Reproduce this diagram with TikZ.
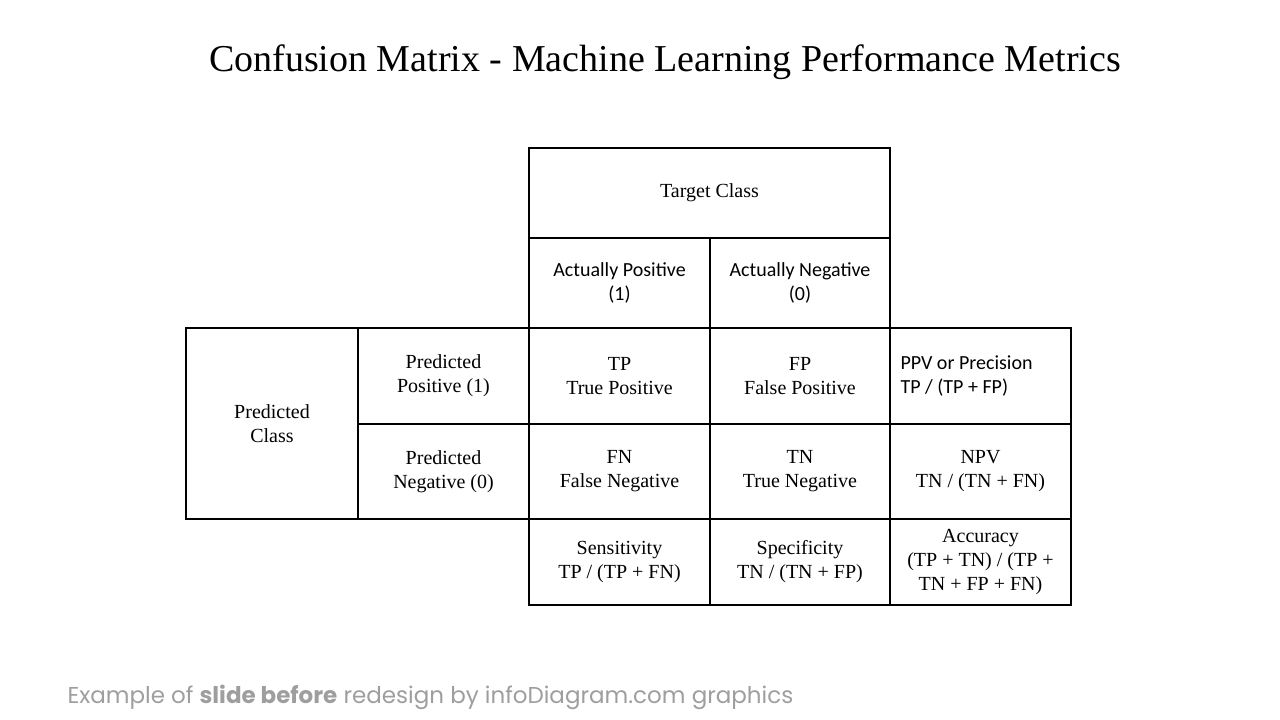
\documentclass[tikz,border=0pt]{standalone}
\usepackage{fontspec}
\setmainfont{Liberation Serif}
\newfontfamily\calfont{Carlito}
\newfontfamily\footfont{Poppins}
\begin{document}
\begin{tikzpicture}[x=1pt,y=-1pt,
  txt/.style={align=center,font=\fontsize{20}{24}\selectfont}]
\useasboundingbox (0,0) rectangle (1280,720);
\node[font=\fontsize{38}{44}\selectfont] (title) at (665,62) {Confusion Matrix - Machine Learning Performance Metrics};
\def\cel#1#2#3#4#5#6{\draw[line width=1.2pt] (#2,#3) rectangle (#4,#5); \node[txt] (#1) at ({(#2+#4)/2},{(#3+#5)/2}) {#6};}
\cel{tc}{529}{148}{890}{238}{Target Class}
\cel{ap}{529}{238}{710}{328}{\calfont Actually Positive\\\calfont (1)}
\cel{an}{710}{238}{890}{328}{\calfont Actually Negative\\\calfont (0)}
\cel{pc}{186}{328}{358}{519}{Predicted\\Class}
\cel{pp}{358}{328}{529}{424}{Predicted\\Positive (1)}
\cel{pn}{358}{424}{529}{519}{Predicted\\Negative (0)}
\cel{tp}{529}{328}{710}{424}{TP\\True Positive}
\cel{fp}{710}{328}{890}{424}{FP\\False Positive}
\draw[line width=1.2pt] (890,328) rectangle (1071,424);
\node[txt,align=left,anchor=west] (ppv) at (897,376) {\calfont PPV or Precision\\\calfont TP / (TP + FP)};
\cel{fn}{529}{424}{710}{519}{FN\\False Negative}
\cel{tn}{710}{424}{890}{519}{TN\\True Negative}
\cel{npv}{890}{424}{1071}{519}{NPV\\TN / (TN + FN)}
\cel{sen}{529}{519}{710}{605}{Sensitivity\\TP / (TP + FN)}
\cel{spe}{710}{519}{890}{605}{Specificity\\TN / (TN + FP)}
\cel{acc}{890}{519}{1071}{605}{Accuracy\\(TP + TN) / (TP +\\TN + FP + FN)}
\node[anchor=west,text=black!38,font=\footfont\fontsize{23}{26}\selectfont] (ft) at (64,697) {Example of \textbf{slide before} redesign by infoDiagram.com graphics};
\end{tikzpicture}
\end{document}
